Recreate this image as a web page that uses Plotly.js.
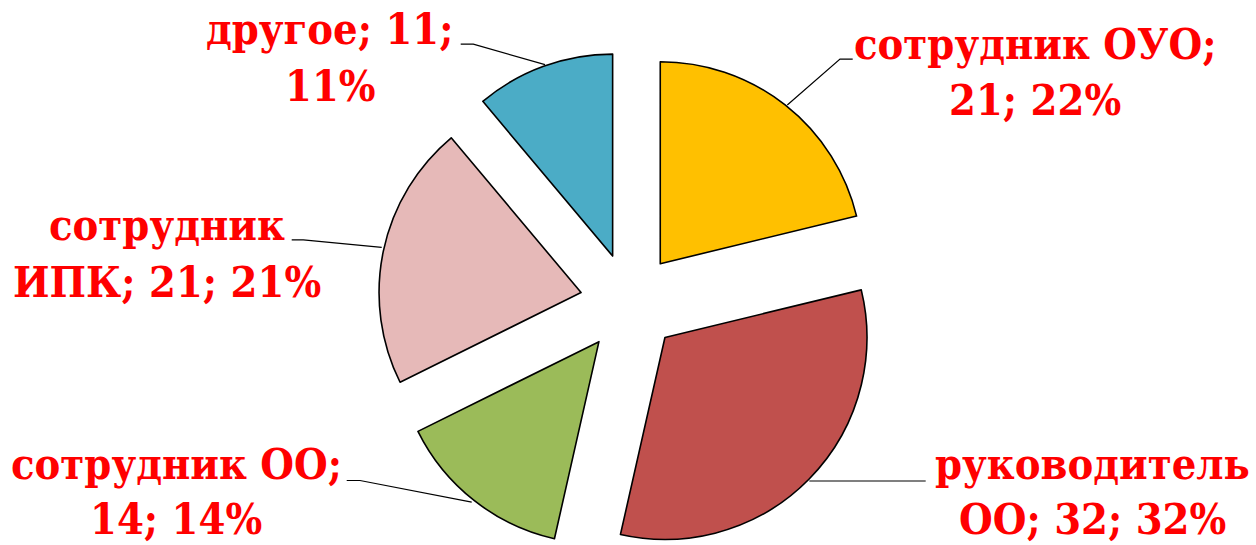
<!DOCTYPE html>
<html>
<head>
<meta charset="utf-8">
<script src="https://cdn.plot.ly/plotly-3.0.1.min.js"></script>
<style>
html,body{margin:0;padding:0;background:#fff;overflow:hidden;}
#frame{width:1256px;height:545px;overflow:hidden;position:relative;}
#chart{width:1256px;height:560px;}
</style>
</head>
<body>
<div id="frame"><div id="chart"></div></div>
<script>
// ---- data ----
const categories = ['сотрудник ОУО', 'руководитель ОО', 'сотрудник ОО', 'сотрудник ИПК', 'другое'];
const values = [21, 32, 14, 21, 11];
const percentLabels = ['22%', '32%', '14%', '21%', '11%'];
const colors = ['#FFC000', '#C0504D', '#9BBB59', '#E6B9B8', '#4BACC6'];

// ---- layout helpers ----
// the exploded pie's bounding circle runs slightly below the visible 545px window,
// so the plot is drawn 560px tall and clipped by the frame
const W = 1256, H = 560;
const px = x => x / W;
const py = y => 1 - y / H;
// number of words on the first line of each label
const breakAfter = [2, 1, 2, 1, 2];
// label centre x and the two baselines (pixels)
const labelPos = [
  [1035, 58.5, 115],
  [1092, 479, 534],
  [176, 479, 534],
  [167, 240, 297],
  [330, 43.5, 101]
];
// leader lines (pixels)
const leaders = [
  [[852.7, 59.1], [840, 59.1], [787.3, 105]],
  [[925.7, 481], [809.3, 481]],
  [[346.7, 480.5], [360, 480.5], [471.7, 502.1]],
  [[291.7, 239.8], [303.3, 239.8], [381.7, 247.4]],
  [[460.7, 44.1], [473.3, 44.1], [545, 64.6]]
];

function labelLines(i) {
  const words = (categories[i] + '; ' + values[i] + '; ' + percentLabels[i]).split(' ');
  return [words.slice(0, breakAfter[i]).join(' '), words.slice(breakAfter[i]).join(' ')];
}

const FS = 43;
const annotations = [];
categories.forEach((c, i) => {
  labelLines(i).forEach((line, k) => {
    annotations.push({
      xref: 'paper', yref: 'paper',
      x: px(labelPos[i][0]), y: py(labelPos[i][1 + k] - 0.346 * FS),
      xanchor: 'center', yanchor: 'middle', align: 'center',
      showarrow: false,
      text: line,
      font: {family: '"DejaVu Serif Condensed", "DejaVu Serif", serif', size: FS, color: '#FF0000', weight: 700, stretch: 'condensed'}
    });
  });
});

const shapes = leaders.map(pts => ({
  type: 'path', xref: 'paper', yref: 'paper',
  path: pts.map((p, k) => (k ? 'L' : 'M') + px(p[0]) + ',' + py(p[1])).join(' '),
  line: {color: '#000', width: 1.2}
}));

const trace = {
  type: 'pie',
  labels: categories,
  values: values,
  sort: false,
  direction: 'clockwise',
  rotation: 0,
  pull: values.map(() => 0.2455),
  textinfo: 'none',
  hoverinfo: 'label+value+percent',
  marker: {colors: colors, line: {color: '#000', width: 1.6}},
  domain: {x: [0.1, 0.90255], y: [0.01018, 0.90875]},
  showlegend: false
};

Plotly.newPlot('chart', [trace], {
  width: W, height: H,
  margin: {l: 0, r: 0, t: 0, b: 0},
  paper_bgcolor: '#fff',
  showlegend: false,
  annotations: annotations,
  shapes: shapes
}, {displayModeBar: false, staticPlot: true});
</script>
</body>
</html>
